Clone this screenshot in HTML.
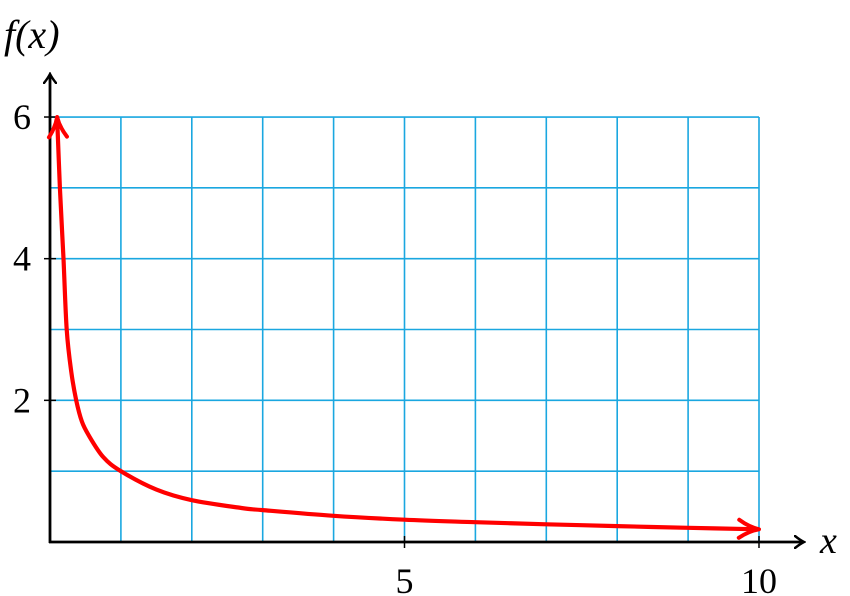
<!DOCTYPE html>
<html><head><meta charset="utf-8"><style>
body{margin:0;background:#fff}
svg{display:block}
text{font-family:"Liberation Serif",serif;fill:#000}
</style></head><body>
<svg id="chart" width="850" height="596" viewBox="0 0 850 596">
<defs>
<marker id="ah" markerWidth="12" markerHeight="14" refX="9" refY="7" orient="auto" markerUnits="userSpaceOnUse"><path d="M1,1 Q6,5 10,7 Q6,9 1,13" fill="none" stroke="#000" stroke-width="2.5" stroke-linecap="round"/></marker>
<marker id="rh" markerWidth="30" markerHeight="24" refX="26" refY="12" orient="auto" markerUnits="userSpaceOnUse"><path d="M6,3 Q16,10 26,12 Q16,14 6,21" fill="none" stroke="#f00" stroke-width="4" stroke-linecap="round" stroke-linejoin="round"/></marker>
<marker id="rhs" markerWidth="30" markerHeight="24" refX="4" refY="12" orient="auto" markerUnits="userSpaceOnUse"><path d="M24,3 Q14,10 4,12 Q14,14 24,21" fill="none" stroke="#f00" stroke-width="4" stroke-linecap="round" stroke-linejoin="round"/></marker>
</defs>
<g id="grid"></g>
<g id="axes"></g>
<g id="ticks"></g>
<g id="series"></g>
<text x="820" y="553" font-size="38" font-style="italic">x</text>
<text x="4" y="48" font-size="40" font-style="italic">f(x)</text>
</svg>
<script>
const xTicks=[5,10];
const yTicks=[2,4,6];
const xs=[0.1,0.14,0.19,0.235,0.3,0.37,0.45,0.55,0.75,1,1.5,2,2.7,3,4,5,6,7,8,9,10];
const ys=[6,5,4,3,2.4,2,1.7,1.5,1.2,1,0.74,0.59,0.48,0.45,0.37,0.315,0.28,0.25,0.225,0.2,0.18];
const X0=50,XS=70.9,Y0=542,YS=70.83;
function sx(v){return X0+v*XS}
function sy(v){return Y0-v*YS}
const NS='http://www.w3.org/2000/svg';
function mk(tag,attrs,parent){const e=document.createElementNS(NS,tag);for(const k in attrs)e.setAttribute(k,attrs[k]);document.getElementById(parent).appendChild(e);return e;}
for(let i=1;i<=10;i++){const l=mk('line',{x1:sx(i),x2:sx(i),y1:sy(0),y2:sy(6),stroke:'#1aa7e0','stroke-width':1.6},'grid');

}
for(let j=1;j<=6;j++){const l=mk('line',{x1:sx(0),x2:sx(10),y1:sy(j),y2:sy(j),stroke:'#1aa7e0','stroke-width':1.6},'grid');

}
const xa=mk('line',{x1:sx(0)-1,y1:sy(0),x2:803,y2:sy(0),stroke:'#000','stroke-width':2.8,'marker-end':'url(#ah)'},'axes');


const ya=mk('line',{x1:sx(0),y1:sy(0)+1,x2:sx(0),y2:75,stroke:'#000','stroke-width':2.8,'marker-end':'url(#ah)'},'axes');


xTicks.forEach(v=>{mk('line',{x1:sx(v),x2:sx(v),y1:sy(0)-6,y2:sy(0)+6,stroke:'#000','stroke-width':1.5},'ticks');
const t=mk('text',{x:sx(v),y:593,'font-size':36,'text-anchor':'middle'},'ticks');t.textContent=v;

});
yTicks.forEach(v=>{mk('line',{x1:sx(0)-6,x2:sx(0)+6,y1:sy(v),y2:sy(v),stroke:'#000','stroke-width':1.5},'ticks');
const t=mk('text',{x:31,y:sy(v)+12,'font-size':36,'text-anchor':'end'},'ticks');t.textContent=v;

});
const P=xs.map((x,i)=>[sx(x),sy(ys[i])]);
let d='M'+P[0][0].toFixed(1)+','+P[0][1].toFixed(1);
for(let i=0;i<P.length-1;i++){const p0=P[Math.max(0,i-1)],p1=P[i],p2=P[i+1],p3=P[Math.min(P.length-1,i+2)];
const c1=[p1[0]+(p2[0]-p0[0])/6,p1[1]+(p2[1]-p0[1])/6],c2=[p2[0]-(p3[0]-p1[0])/6,p2[1]-(p3[1]-p1[1])/6];
d+=' C'+c1.map(v=>v.toFixed(1)).join(',')+' '+c2.map(v=>v.toFixed(1)).join(',')+' '+p2.map(v=>v.toFixed(1)).join(',');}
const p=mk('path',{d:d,fill:'none',stroke:'#f00','stroke-width':4.2,'stroke-linejoin':'round','marker-start':'url(#rhs)','marker-end':'url(#rh)'},'series');


</script>
</body></html>
